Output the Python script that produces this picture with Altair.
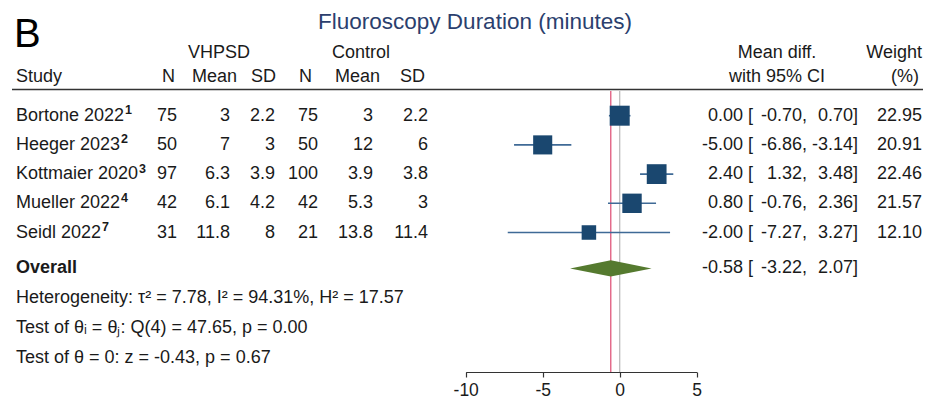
import altair as alt
import pandas as pd

FONT = "Liberation Sans"

# ---------------- data ----------------
studies = ["Bortone 2022", "Heeger 2023", "Kottmaier 2020", "Mueller 2022", "Seidl 2022"]
refs = ["1", "2", "3", "4", "7"]
n_vhpsd = [75, 50, 97, 42, 31]
mean_vhpsd = [3, 7, 6.3, 6.1, 11.8]
sd_vhpsd = [2.2, 3, 3.9, 4.2, 8]
n_ctrl = [75, 50, 100, 42, 21]
mean_ctrl = [3, 12, 3.9, 5.3, 13.8]
sd_ctrl = [2.2, 6, 3.8, 3, 11.4]
mean_diff = [0.00, -5.00, 2.40, 0.80, -2.00]
ci_low = [-0.70, -6.86, 1.32, -0.76, -7.27]
ci_high = [0.70, -3.14, 3.48, 2.36, 3.27]
weights = [22.95, 20.91, 22.46, 21.57, 12.10]

overall_est = -0.58
overall_low = -3.22
overall_high = 2.07

stats_lines = [
    "Heterogeneity: τ² = 7.78, I² = 94.31%, H² = 17.57",
    "Test of θᵢ = θⱼ: Q(4) = 47.65, p = 0.00",
    "Test of θ = 0: z = -0.43, p = 0.67",
]
axis_ticks = [-10, -5, 0, 5]

# ---------------- layout ----------------
W, H = 915, 364
n = len(studies)
rows = list(range(1, n + 1))
overall_row = n + 1.23
stat_rows = [overall_row + 1.02 * (k + 1) for k in range(len(stats_lines))]

TXT = "#1a1a1a"
NAVY = "#1a476f"
CI_COL = "#3f6a96"
GREEN = "#557a2f"
RED = "#e0587c"
GREY = "#bdbdbd"
FS = 18

# Arial / Liberation Sans advance widths (per 1000 em) for placing superscripts
ADV = {" ": 278, "B": 667, "H": 722, "K": 667, "M": 833, "S": 667, "a": 556,
       "d": 556, "e": 556, "g": 556, "i": 222, "l": 222, "m": 833, "n": 556,
       "o": 556, "r": 333, "t": 278, "u": 556}


def text_width(s, size):
    return sum(ADV.get(c, 556) for c in s) * size / 1000.0


def g(v):
    return f"{v:g}"


df = pd.DataFrame({
    "row": rows,
    "study": studies,
    "ref": refs,
    "n1": [str(v) for v in n_vhpsd],
    "m1": [g(v) for v in mean_vhpsd],
    "s1": [g(v) for v in sd_vhpsd],
    "n2": [str(v) for v in n_ctrl],
    "m2": [g(v) for v in mean_ctrl],
    "s2": [g(v) for v in sd_ctrl],
    "md": mean_diff,
    "lo": ci_low,
    "hi": ci_high,
    "w": weights,
})
df["md_t"] = [f"{v:.2f}" for v in mean_diff]
df["lo_t"] = [f"{v:.2f}," for v in ci_low]
df["hi_t"] = [f"{v:.2f}]" for v in ci_high]
df["w_t"] = [f"{v:.2f}" for v in weights]
df["br"] = "["

ov = pd.DataFrame({
    "row": [overall_row],
    "label": ["Overall"],
    "md_t": [f"{overall_est:.2f}"],
    "lo_t": [f"{overall_low:.2f},"],
    "hi_t": [f"{overall_high:.2f}]"],
    "br": ["["],
})

diamond = pd.DataFrame({
    "x": [overall_low, overall_est, overall_high],
    "ytop": [overall_row, overall_row - 0.28, overall_row],
    "ybot": [overall_row, overall_row + 0.28, overall_row],
})

stats_df = pd.DataFrame({"row": stat_rows, "txt": stats_lines})

# ---------------- scales ----------------
xscale = alt.Scale(domain=[-10, 5], range=[457.7, 688.7], nice=False, zero=False)
yscale = alt.Scale(domain=[-2.688, 9.777], reverse=True, nice=False, zero=False)
xaxis = alt.Axis(
    values=axis_ticks, title=None, grid=False, labelFont=FONT, labelFontSize=17.5,
    labelColor=TXT, labelFlush=False, labelExpr="'' + datum.value", tickSize=5,
    tickColor="#333", domainColor="#333", tickWidth=1.2, domainWidth=1.2,
    labelPadding=4,
)


def X(field):
    return alt.X(field, type="quantitative", scale=xscale, axis=xaxis)


def Y(field="row"):
    return alt.Y(field, type="quantitative", scale=yscale, axis=None)


def col(data, field, x, align="right", weight="normal", size=FS, baseline="middle", dy=0):
    return alt.Chart(data).mark_text(
        align=align, baseline=baseline, font=FONT, fontSize=size,
        fontWeight=weight, color=TXT, dy=dy,
    ).encode(x=alt.value(x), y=Y(), text=alt.Text(field, type="nominal"))


one = pd.DataFrame({"a": [0]})


def label(text, x, y, align="center", size=FS, color=TXT, baseline="alphabetic", weight="normal"):
    return alt.Chart(one).mark_text(
        text=text, align=align, baseline=baseline, font=FONT, fontSize=size,
        color=color, fontWeight=weight,
    ).encode(x=alt.value(x), y=alt.value(y))


layers = []

# reference lines
layers.append(alt.Chart(pd.DataFrame({"v": [0]})).mark_rule(color=GREY, strokeWidth=1.3)
              .encode(x=X("v"), y=alt.value(83), y2=alt.value(H)))
layers.append(alt.Chart(pd.DataFrame({"v": [overall_est]})).mark_rule(color=RED, strokeWidth=1.3)
              .encode(x=X("v"), y=alt.value(83), y2=alt.value(H)))

# CIs and squares
layers.append(alt.Chart(df).mark_rule(color=CI_COL, strokeWidth=1.6)
              .encode(x=X("lo"), x2="hi", y=Y()))
layers.append(alt.Chart(df).mark_square(filled=True, opacity=1, color=NAVY, strokeWidth=0)
              .encode(x=X("md"), y=Y(),
                      size=alt.Size("w", type="quantitative",
                                    scale=alt.Scale(domain=[0, 22.95], range=[0, 400]),
                                    legend=None)))
# diamond
layers.append(alt.Chart(diamond).mark_area(color=GREEN, orient="vertical", opacity=1)
              .encode(x=X("x"), y=Y("ytop"), y2="ybot"))

# header line
layers.append(alt.Chart(one).mark_rule(color="#333", strokeWidth=1.5)
              .encode(x=alt.value(4), x2=alt.value(W), y=alt.value(81.5)))

# title and panel letter
layers.append(label("Fluoroscopy Duration (minutes)", 467, 20.6, size=22.5, color="#2b3f6e"))
layers.append(label("B", 6, 39, align="left", size=40, color="#000"))

# headers
b1, b2 = 50.3, 73.7
layers += [
    label("VHPSD", 211, b1), label("Control", 353, b1),
    label("Mean diff.", 769, b1), label("Weight", 914, b1, align="right"),
    label("Study", 8, b2, align="left"),
    label("N", 167, b2, align="right"), label("Mean", 229, b2, align="right"),
    label("SD", 268, b2, align="right"), label("N", 304, b2, align="right"),
    label("Mean", 372, b2, align="right"), label("SD", 417, b2, align="right"),
    label("with 95% CI", 769, b2), label("(%)", 897, b2),
]

# table columns
layers += [
    col(df, "study", 8, align="left"),
    col(df, "n1", 169), col(df, "m1", 222), col(df, "s1", 267),
    col(df, "n2", 310), col(df, "m2", 365), col(df, "s2", 420),
    col(df, "md_t", 735), col(df, "br", 740, align="left"),
    col(df, "lo_t", 799), col(df, "hi_t", 850), col(df, "w_t", 914),
]

# bold reference superscripts after each study name
for i in range(n):
    sub = df.iloc[[i]]
    sx = 8 + text_width(studies[i], FS) + 1
    layers.append(col(sub, "ref", sx, align="left", weight="bold", size=12.5,
                      baseline="alphabetic", dy=-1.5))

# overall
layers += [
    col(ov, "label", 8, align="left", weight="bold"),
    col(ov, "md_t", 735), col(ov, "br", 740, align="left"),
    col(ov, "lo_t", 799), col(ov, "hi_t", 850),
]

# stats
layers.append(col(stats_df, "txt", 8, align="left"))

chart = alt.layer(*layers).properties(
    width=W, height=H,
    autosize=alt.AutoSizeParams(type="none"),
    padding={"left": 0, "top": 0, "right": 0, "bottom": 26},
).configure_view(stroke=None)

chart.save("out.html", embed_options={"renderer": "svg", "actions": False})
